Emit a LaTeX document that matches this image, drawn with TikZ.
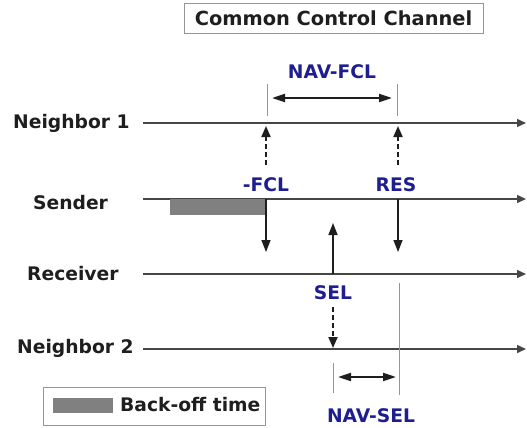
\documentclass[tikz,border=0pt]{standalone}
\usepackage{fontspec}
\setmainfont{DejaVu Sans}
\usetikzlibrary{arrows.meta}
\definecolor{ink}{RGB}{30,30,30}
\definecolor{lbl}{RGB}{30,30,145}
\definecolor{axis}{RGB}{70,70,70}
\definecolor{tickgray}{RGB}{150,150,150}
\definecolor{boff}{RGB}{128,128,128}
\begin{document}
\begin{tikzpicture}[x=1pt,y=-1pt,
  txt/.style={font=\fontsize{18.7}{20}\selectfont\bfseries, inner sep=0pt,
              text height=13.6pt, text depth=0pt},
  stationname/.style={txt, text=ink, anchor=west},
  msg/.style={txt, text=lbl},
  timeline/.style={draw=axis, line width=1.5pt, -{Triangle[length=9pt,width=8pt]}},
  sendarrow/.style={draw=ink, line width=1.5pt, -{Triangle[length=12pt,width=9pt]}},
  overheard/.style={draw=ink, line width=2pt, dash pattern=on 5pt off 3pt,
                    -{Triangle[length=11pt,width=9pt]}},
  marker/.style={draw=tickgray, line width=1pt},
  navspan/.style={draw=ink, line width=2pt,
                  {Triangle[length=13pt,width=8pt]}-{Triangle[length=13pt,width=8pt]}},
  framebox/.style={draw=tickgray, line width=1pt, inner sep=0pt}
]
\useasboundingbox (0,0) rectangle (527,428);

% channel title
\node[framebox, minimum width=299pt, minimum height=30pt, txt, text=ink,
      font=\fontsize{19.4}{21}\selectfont\bfseries] (title) at (333.5,19) {Common Control Channel};

% station names
\node[stationname] (n1)  at (13,122)  {Neighbor 1};
\node[stationname] (snd) at (33,203)  {Sender};
\node[stationname] (rcv) at (27,274)  {Receiver};
\node[stationname] (n2)  at (17,347)  {Neighbor 2};

% time lines
\coordinate (n1s)  at (143,123); \coordinate (n1e)  at (526,123);
\coordinate (snds) at (143,199); \coordinate (snde) at (526,199);
\coordinate (rcvs) at (143,274); \coordinate (rcve) at (526,274);
\coordinate (n2s)  at (143,349); \coordinate (n2e)  at (526,349);
\draw[timeline] (n1s) -- (n1e);
\draw[timeline] (snds) -- (snde);
\draw[timeline] (rcvs) -- (rcve);
\draw[timeline] (n2s) -- (n2e);

% back-off period of the sender
\fill[boff] (170,199) rectangle (266,215);

% FCL: sender -> receiver, overheard by neighbor 1
\coordinate (fclA) at (266,199); \coordinate (fclB) at (266,252);
\draw[sendarrow] (fclA) -- (fclB);
\coordinate (fclC) at (266,165); \coordinate (fclD) at (266,126);
\draw[overheard] (fclC) -- (fclD);
\node[msg] (fcl) at (266,185) {-FCL};

% SEL: receiver -> sender, overheard by neighbor 2
\coordinate (selA) at (333,274); \coordinate (selB) at (333,223);
\draw[sendarrow] (selA) -- (selB);
\coordinate (selC) at (333,307); \coordinate (selD) at (333,348);
\draw[overheard] (selC) -- (selD);
\node[msg] (sel) at (333,293) {SEL};

% RES: sender -> receiver, overheard by neighbor 1
\coordinate (resA) at (398,199); \coordinate (resB) at (398,252);
\draw[sendarrow] (resA) -- (resB);
\coordinate (resC) at (398,165); \coordinate (resD) at (398,126);
\draw[overheard] (resC) -- (resD);
\node[msg] (res) at (396,185) {RES};

% NAV set by FCL at neighbor 1
\coordinate (m1a) at (267,84);  \coordinate (m1b) at (267,116);
\coordinate (m2a) at (397,84);  \coordinate (m2b) at (397,116);
\draw[marker] (m1a) -- (m1b);
\draw[marker] (m2a) -- (m2b);
\coordinate (navfA) at (272,98); \coordinate (navfB) at (392,98);
\draw[navspan] (navfA) -- (navfB);
\node[msg] (navfcl) at (332,72) {NAV-FCL};

% NAV set by SEL at neighbor 2
\coordinate (m3a) at (333,363); \coordinate (m3b) at (333,393);
\coordinate (m4a) at (399,283); \coordinate (m4b) at (399,395);
\draw[marker] (m3a) -- (m3b);
\draw[marker] (m4a) -- (m4b);
\coordinate (navsA) at (338,377); \coordinate (navsB) at (396,377);
\draw[navspan] (navsA) -- (navsB);
\node[msg] (navsel) at (371,416) {NAV-SEL};

% legend
\node[framebox, minimum width=222pt, minimum height=38pt] (legend) at (154,406) {};
\fill[boff] (53,398) rectangle (113,413);
\node[stationname] (legtext) at (120,405) {Back-off time};
\end{tikzpicture}
\end{document}
